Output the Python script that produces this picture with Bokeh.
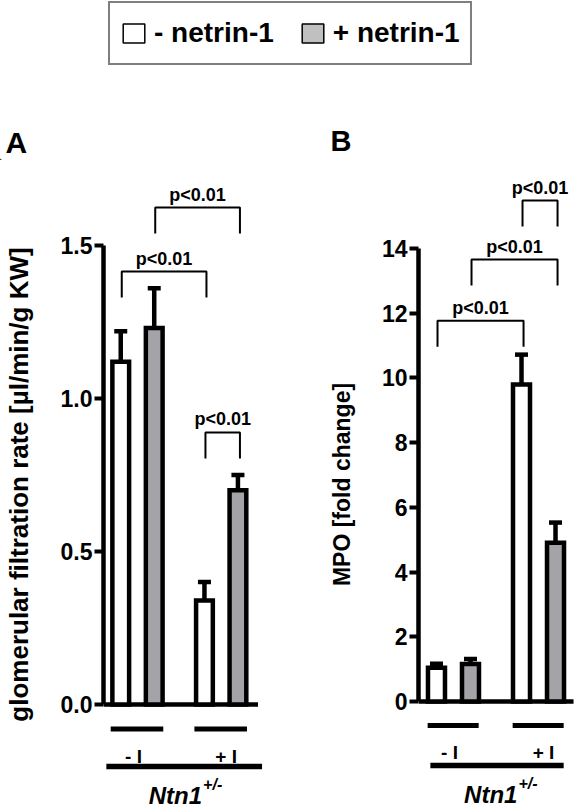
from bokeh.plotting import figure
from bokeh.models import (ColumnDataSource, Range1d, FixedTicker, Whisker, TeeHead,
                          Legend, LegendItem, NumeralTickFormatter)
from bokeh.layouts import column, row
from bokeh.embed import file_html
from bokeh.resources import INLINE
from bokeh.core.properties import value

# ---------------- data ----------------
groups = ["- I", "+ I"]
series = ["- netrin-1", "+ netrin-1"]
gfr_mean = [1.12, 1.23, 0.34, 0.70]
gfr_sem = [0.10, 0.13, 0.06, 0.05]
mpo_mean = [1.04, 1.16, 9.80, 4.91]
mpo_sem = [0.13, 0.15, 0.92, 0.62]
gfr_ticks = [0.0, 0.5, 1.0, 1.5]
mpo_ticks = [0, 2, 4, 6, 8, 10, 12, 14]
# significance brackets: (bar i, bar j, bracket height in data units)
gfr_sig = [(0, 2, 1.415), (1, 3, 1.624), (2, 3, 0.889)]
mpo_sig = [(0, 2, 11.77), (1, 3, 13.66), (2, 3, 15.48)]
p_label = "p<0.01"
genotype = "Ntn1"
genotype_sup = "+/-"
gfr_label = "glomerular filtration rate [µl/min/g KW]"
mpo_label = "MPO [fold change]"
panel_letters = ["A", "B"]

# ---------------- style ----------------
FONT = "Liberation Sans"
BAR_GRAY = "#a4a4a8"
LEG_GRAY = "#c0c0c0"
fills = ["white", BAR_GRAY]
BAR_W = 0.5
GROUP_STEP = 2.5
HEAD_H = 160
PANEL_H = 648
LW = 4.5

pos = [g * GROUP_STEP + s for g in range(len(groups)) for s in range(len(series))]


def panel(mean, sem, ticks, fmt, ylabel, ylabel_size, ylabel_standoff, sig, y_range, x_range,
          width, border_left, lay):
    p = figure(width=width, height=PANEL_H, x_range=Range1d(*x_range), y_range=Range1d(*y_range),
               x_axis_location=None, toolbar_location=None, output_backend="svg",
               min_border_left=border_left, min_border_right=0, min_border_top=0,
               min_border_bottom=0)
    p.outline_line_color = None
    p.grid.visible = False
    p.background_fill_color = "white"
    p.border_fill_color = "white"
    ppu = PANEL_H / (y_range[1] - y_range[0])

    # x baseline (drawn at y = 0 like the original axis)
    p.segment(x0=[x_range[0]], y0=[ticks[0]], x1=[lay["xend"]], y1=[ticks[0]],
              line_color="black", line_width=LW)

    # bars per series
    for s in range(len(series)):
        idx = [g * len(series) + s for g in range(len(groups))]
        src = ColumnDataSource(dict(x=[pos[i] for i in idx], top=[mean[i] for i in idx]))
        p.vbar(x="x", top="top", bottom=0, width=BAR_W, source=src,
               fill_color=fills[s], line_color="black", line_width=LW, line_join="miter")

    esrc = ColumnDataSource(dict(x=pos, lower=mean, upper=[m + e for m, e in zip(mean, sem)]))
    p.add_layout(Whisker(base="x", lower="lower", upper="upper", source=esrc,
                         dimension="height", line_color="black", line_width=LW,
                         upper_head=TeeHead(size=13, line_color="black", line_width=LW),
                         lower_head=None, level="glyph"))

    # significance brackets
    leg = 26 / ppu
    xs, ys, tx, ty = [], [], [], []
    for i, j, h in sig:
        x0 = pos[i] + 0.03
        x1 = pos[j] + 0.06
        xs.append([x0, x0, x1, x1])
        ys.append([h - leg, h, h, h - leg])
        tx.append((x0 + x1) / 2)
        ty.append(h)
    p.multi_line(xs=xs, ys=ys, line_color="black", line_width=2)
    p.text(x=tx, y=ty, text=[p_label] * len(tx), text_align="center", text_baseline="bottom",
           y_offset=-3, text_font=value(FONT), text_font_style="bold", text_font_size="18px",
           text_color="black")

    # group lines & labels
    gx0, gx1, gx = [], [], []
    for g in range(len(groups)):
        first = pos[g * len(series)]
        last = pos[g * len(series) + len(series) - 1]
        gx0.append(first - lay["gpad_l"])
        gx1.append(last + lay["gpad_r"])
        gx.append((first + last) / 2)
    p.segment(x0=gx0, y0=[lay["gline_y"]] * 2, x1=gx1, y1=[lay["gline_y"]] * 2,
              line_color="black", line_width=5)
    p.text(x=gx, y=[lay["glabel_y"]] * 2, text=groups, text_align="center",
           x_offset=[-4, 5], text_baseline="alphabetic", text_font=value(FONT),
           text_font_style="bold", text_font_size="19px", text_color="black")
    p.segment(x0=[lay["nline"][0]], y0=[lay["nline_y"]], x1=[lay["nline"][1]],
              y1=[lay["nline_y"]], line_color="black", line_width=5.5)
    p.text(x=[lay["ntext_x"]], y=[lay["ntext_y"]], text=[genotype], text_align="right",
           text_baseline="alphabetic", text_font=value(FONT), text_font_style="bold italic",
           text_font_size="24px", text_color="black")
    p.text(x=[lay["ntext_x"]], y=[lay["ntext_y"]], text=[genotype_sup], text_align="left",
           text_baseline="alphabetic", x_offset=1, y_offset=-11, text_font=value(FONT),
           text_font_style="bold italic", text_font_size="16px", text_color="black")

    ax = p.yaxis[0]
    ax.bounds = (ticks[0], ticks[-1])
    ax.ticker = FixedTicker(ticks=ticks)
    ax.formatter = NumeralTickFormatter(format=fmt)
    ax.minor_tick_line_color = None
    ax.major_tick_in = 0
    ax.major_tick_out = 9
    ax.major_tick_line_width = 4
    ax.axis_line_width = LW
    ax.axis_line_color = "black"
    ax.major_tick_line_color = "black"
    ax.major_label_text_font = FONT
    ax.major_label_text_font_style = "bold"
    ax.major_label_text_font_size = "23px"
    ax.major_label_text_color = "black"
    ax.major_label_standoff = 2
    ax.axis_label = ylabel
    ax.axis_label_text_font = FONT
    ax.axis_label_text_font_style = "bold"
    ax.axis_label_text_font_size = ylabel_size
    ax.axis_label_text_color = "black"
    ax.axis_label_standoff = ylabel_standoff
    return p


pA = panel(gfr_mean, gfr_sem, gfr_ticks, "0.0", gfr_label, "26px", 24, gfr_sig,
           (-0.3399, 1.7778), (-0.515, 5.07), 290, 100,
           dict(xend=4.10, gpad_l=0.30, gpad_r=0.27, gline_y=-0.08, glabel_y=-0.170,
                nline=(-0.43, 4.22), nline_y=-0.203, ntext_x=2.43, ntext_y=-0.2974))
pB = panel(mpo_mean, mpo_sem, mpo_ticks, "0", mpo_label, "23px", 24, mpo_sig,
           (-3.307, 16.720), (-0.529, 4.176), 288, 128,
           dict(xend=4.03, gpad_l=0.26, gpad_r=0.24, gline_y=-0.74, glabel_y=-1.576,
                nline=(-0.18, 3.74), nline_y=-1.98, ntext_x=2.38, ntext_y=-2.874))

# ---------------- header: legend + panel letters ----------------
h = figure(width=578, height=HEAD_H, x_range=Range1d(0, 578), y_range=Range1d(0, HEAD_H),
           x_axis_location=None, y_axis_location=None, toolbar_location=None,
           output_backend="svg", min_border=0)
h.outline_line_color = None
h.xgrid.visible = False
h.ygrid.visible = False
h.background_fill_color = "white"
h.border_fill_color = "white"
r0 = h.vbar(x=[-100], top=[1], width=1, fill_color="white", line_color="black", line_width=1.5)
r1 = h.vbar(x=[-100], top=[1], width=1, fill_color=LEG_GRAY, line_color="black", line_width=1.5)
legend = Legend(items=[LegendItem(label=series[0], renderers=[r0]),
                       LegendItem(label=series[1], renderers=[r1])],
                orientation="horizontal", location=(108, HEAD_H - 65), margin=0, padding=10,
                spacing=25, glyph_width=27, glyph_height=24, label_standoff=7,
                label_height=40, label_text_font=FONT, label_text_font_style="bold",
                label_text_font_size="28px", label_text_color="black",
                border_line_color="black", border_line_width=2,
                background_fill_color="white", background_fill_alpha=1)
h.add_layout(legend)
h.text(x=[5, 330], y=[HEAD_H - 142, HEAD_H - 140], text=panel_letters, text_align="left",
       text_baseline="alphabetic", text_font=value(FONT), text_font_style="bold",
       text_font_size=["30px", "29px"], text_color="black")

layout = column(h, row(pA, pB, spacing=0), spacing=0)
open("out.html", "w").write(file_html(layout, INLINE))
